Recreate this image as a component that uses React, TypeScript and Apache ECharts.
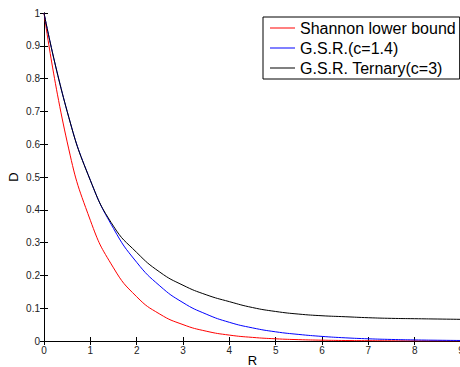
import React, { useEffect, useRef } from "react";
import * as echarts from "echarts";

const rValues = [0, 0.5, 1, 1.5, 2, 2.5, 3, 3.5, 4, 4.5, 5, 5.5, 6, 6.5, 7, 7.5, 8, 8.5, 9];
const shannon = [1, 0.607, 0.368, 0.223, 0.135, 0.082, 0.05, 0.03, 0.018, 0.011, 0.0067, 0.0041, 0.0025, 0.0015, 0.0009, 0.0006, 0.0003, 0.0002, 0.0001];
const gsr = [1, 0.7, 0.49, 0.343, 0.24, 0.168, 0.117, 0.082, 0.057, 0.04, 0.028, 0.02, 0.014, 0.0097, 0.0067, 0.0047, 0.0033, 0.0023, 0.0016];
const ternary = [1, 0.7, 0.49, 0.35, 0.27, 0.21, 0.17, 0.141, 0.12, 0.102, 0.09, 0.082, 0.077, 0.074, 0.071, 0.069, 0.068, 0.067, 0.066];
const seriesNames = ["Shannon lower bound", "G.S.R.(c=1.4)", "G.S.R. Ternary(c=3)"];
const seriesColors = ["#ff0000", "#0000ff", "#000000"];
const xTicks = [0, 1, 2, 3, 4, 5, 6, 7, 8, 9];
const yTicks = [0, 0.1, 0.2, 0.3, 0.4, 0.5, 0.6, 0.7, 0.8, 0.9, 1];

const FONT = "'Liberation Sans', Arial, Helvetica, sans-serif";

export default function App() {
  const ref = useRef<HTMLDivElement>(null);
  useEffect(() => {
    if (!ref.current) return;
    const chart = echarts.init(ref.current, undefined, { renderer: "svg" });
    const allSeries = [shannon, gsr, ternary];
    const axisCommon = {
      type: "value" as const,
      axisLine: { show: true, lineStyle: { color: "#000", width: 1 } },
      axisTick: { show: true, inside: true, length: 4, lineStyle: { color: "#000" } },
      splitLine: { show: false },
    };
    chart.setOption({
      animation: false,
      backgroundColor: "#fff",
      textStyle: { fontFamily: FONT },
      grid: {
        left: 44,
        right: 1,
        top: 13,
        bottom: 26,
        containLabel: false,
        outerBoundsMode: "none",
      },
      legend: {
        orient: "vertical",
        left: 263,
        top: 17,
        data: seriesNames.map((n, i) => ({ name: n, icon: "rect", itemStyle: { color: seriesColors[i] } })),
        backgroundColor: "#fff",
        borderColor: "#000",
        borderWidth: 1,
        padding: [3, 4, 3, 7],
        itemWidth: 25,
        itemHeight: 1,
        itemGap: 4,
        textStyle: { fontFamily: FONT, fontSize: 16, color: "#000" },
      },
      xAxis: [
        {
          ...axisCommon,
          min: 0,
          max: 9,
          interval: 1,
          position: "bottom",
          axisLabel: {
            fontSize: 10,
            color: "#222",
            margin: 4,
            formatter: (v: number) => (xTicks.includes(v) ? String(v) : ""),
          },
          name: "R",
          nameLocation: "middle",
          nameGap: 13,
          nameMoveOverlap: false,
          nameTextStyle: { fontSize: 13, color: "#000", fontFamily: FONT },
        },
        {
          ...axisCommon,
          min: 0,
          max: 9,
          interval: 1,
          position: "top",
          axisLabel: { show: false },
        },
      ],
      yAxis: [
        {
          ...axisCommon,
          min: 0,
          max: 1,
          interval: 0.1,
          position: "left",
          axisLabel: {
            fontSize: 10,
            color: "#222",
            margin: 4,
            formatter: (v: number) => {
              const t = yTicks.find((y) => Math.abs(y - v) < 1e-9);
              return t === undefined ? "" : String(t);
            },
          },
          name: "D",
          nameLocation: "middle",
          nameGap: 24,
          nameMoveOverlap: false,
          nameTextStyle: { fontSize: 13, color: "#000", fontFamily: FONT },
        },
        {
          ...axisCommon,
          min: 0,
          max: 1,
          interval: 0.1,
          position: "right",
          axisLabel: { show: false },
        },
      ],
      series: seriesNames.map((name, i) => ({
        name,
        type: "line",
        xAxisIndex: 0,
        yAxisIndex: 0,
        symbol: "none",
        smooth: 0.5,
        color: seriesColors[i],
        lineStyle: { color: seriesColors[i], width: 1 },
        data: rValues.map((r, j) => [r, allSeries[i][j]]),
      })),
    });
    return () => chart.dispose();
  }, []);
  return (
    <div
      ref={ref}
      style={{ position: "fixed", left: 0, top: 0, width: 462, height: 367, background: "#fff" }}
    />
  );
}
